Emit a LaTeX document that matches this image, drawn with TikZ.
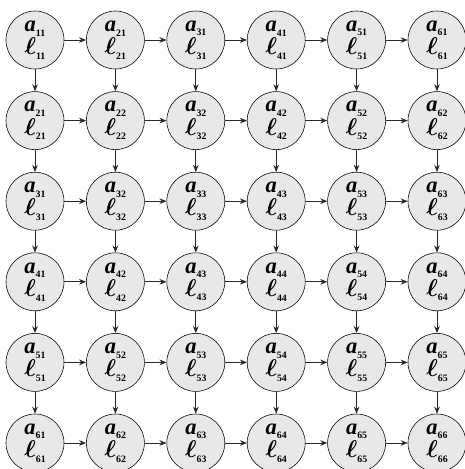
\documentclass[tikz,border=0pt]{standalone}
\usepackage{fontspec}
\usepackage{amsmath}
\setmainfont{Liberation Serif}
\usetikzlibrary{arrows.meta, positioning}
\definecolor{cellgray}{RGB}{232,232,232}
\definecolor{charcoal}{RGB}{40,40,40}
\newcommand{\idx}[1]{\raisebox{-0.45ex}{\upshape\fontsize{7}{7}\selectfont #1}}
\newcommand{\bell}{$\boldsymbol{\ell}$}

\begin{document}
\begin{tikzpicture}[
            x=0.025cm, y=-0.025cm,
            cell/.style={circle, draw=black, fill=cellgray, minimum size=1.45cm, inner sep=0pt, align=center, font=\fontsize{16}{16.5}\selectfont\bfseries\itshape},
            arrow/.style={-{Stealth[length=5pt, width=4pt]}, semithick, charcoal}
        ]
            \useasboundingbox (0,0) rectangle (465,469);
            % grid of cells, label index is (max, min)
            \foreach \i in {1,...,6}{
                \foreach \j in {1,...,6}{
                    \pgfmathtruncatemacro{\hi}{max(\i,\j)}
                    \pgfmathtruncatemacro{\lo}{min(\i,\j)}
                    \node[cell] (c\i\j) at ({35+80.4*(\j-1)}, {40+80.6*(\i-1)}) {a\idx{\hi\lo}\\\bell\idx{\hi\lo}};
                }
            }
            
            % row and column links
            \foreach \i in {1,...,6}{
                \foreach \j in {1,...,5}{
                    \pgfmathtruncatemacro{\nx}{\j+1}
                    \draw[arrow] (c\i\j) -- (c\i\nx);
                    \draw[arrow] (c\j\i) -- (c\nx\i);
                }
            }
        \end{tikzpicture}
\end{document}
